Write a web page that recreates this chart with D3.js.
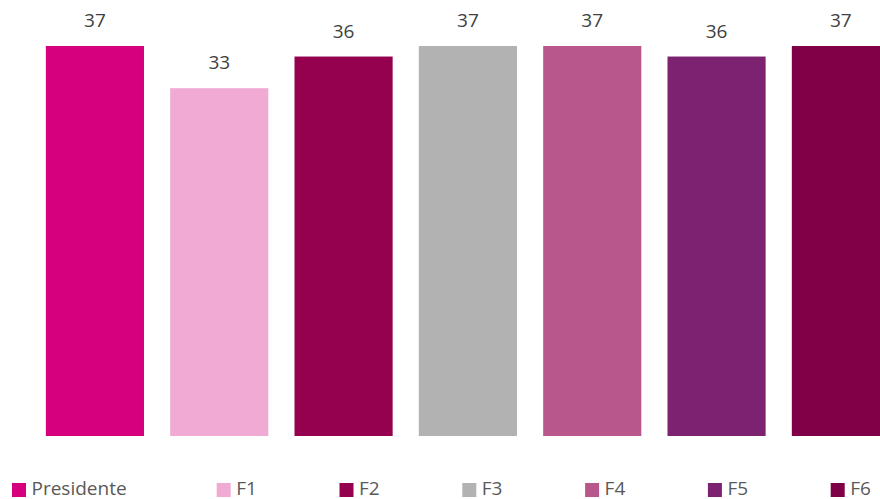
<!DOCTYPE html>
<html><head><meta charset="utf-8">
<script src="https://cdn.jsdelivr.net/npm/d3@7"></script>
<style>body{margin:0;background:#fff;}svg{display:block;}</style>
</head><body>
<svg id="c" width="880" height="499"></svg>
<script>
const categories = ["Presidente","F1","F2","F3","F4","F5","F6"];
const values = [37,33,36,37,37,36,37];
const colors = ["#D6007F","#F0AAD4","#95004F","#B2B2B2","#B8578B","#7D2270","#800048"];

const svg = d3.select("#c");
const font = "'Open Sans', sans-serif";
const x = d3.scaleBand().domain(categories).range([32.8, 903]).paddingInner(0.2107).paddingOuter(0.105);
const y = d3.scaleLinear().domain([0, 37]).range([436, 46]);

svg.selectAll("rect.bar").data(categories).join("rect").attr("class","bar")
  .attr("x", d => x(d)).attr("width", x.bandwidth())
  .attr("y", (d,i) => y(values[i])).attr("height", (d,i) => y(0) - y(values[i]))
  .attr("fill", (d,i) => colors[i]);

svg.selectAll("text.lbl").data(categories).join("text").attr("class","lbl")
  .attr("x", d => x(d) + x.bandwidth()/2)
  .attr("y", (d,i) => y(values[i]) - 19)
  .attr("text-anchor","middle").attr("font-family",font).attr("font-size",19)
  .attr("fill","#404040").text((d,i) => values[i]);

const legX = categories.map((d,i) => i === 0 ? 12 : 216.7 + (i-1)*122.8);
const lg = svg.selectAll("g.leg").data(categories).join("g").attr("class","leg")
  .attr("transform", (d,i) => `translate(${legX[i]},483)`);
lg.append("rect").attr("width",14).attr("height",14).attr("fill",(d,i)=>colors[i]);
lg.append("text").attr("x",19.5).attr("y",11.5).attr("font-family",font).attr("font-size",19)
  .attr("fill","#595959").text(d => d);
</script>
</body></html>
